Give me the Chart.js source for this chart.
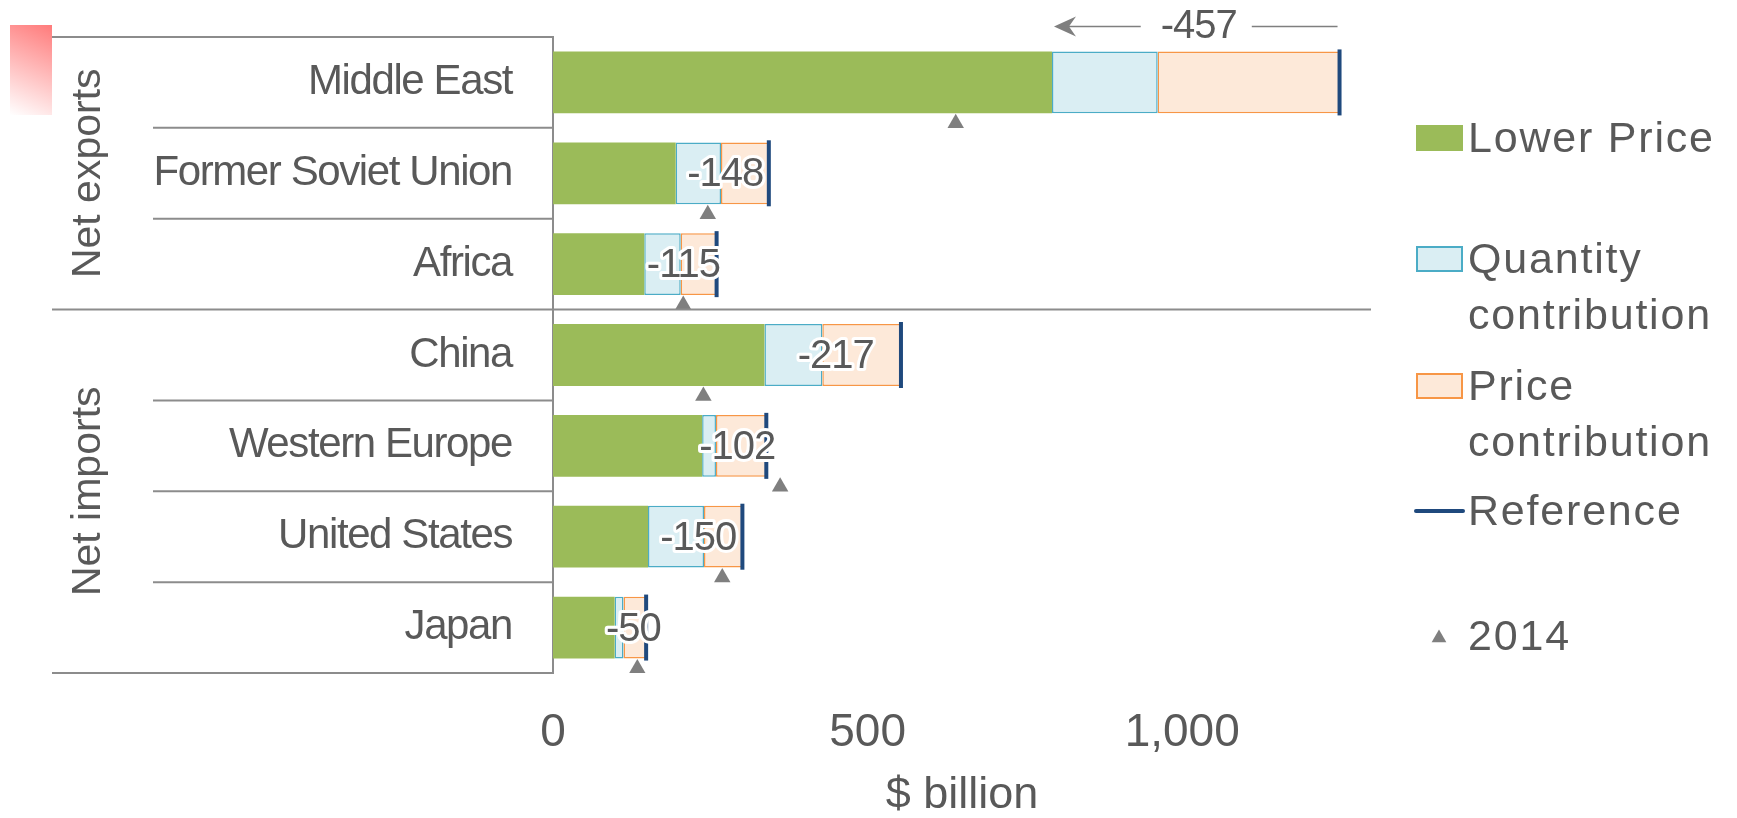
<!DOCTYPE html>
<html>
<head>
<meta charset="utf-8">
<title>Change in net oil trade revenue</title>
<script src="https://cdn.jsdelivr.net/npm/chart.js@4.4.1/dist/chart.umd.min.js"></script>
<style>
  html, body { margin: 0; padding: 0; background: #fff; }
  #wrap { position: relative; width: 1737px; height: 818px; }
</style>
</head>
<body>
<div id="wrap"><canvas id="chart"></canvas></div>
<script>
// values in $ billion
const regions = ['Middle East', 'Former Soviet Union', 'Africa', 'China', 'Western Europe', 'United States', 'Japan'];
const groupNames = ['Net exports', 'Net imports'];
const groupSizes = [3, 4];
const lowerPrice = [793, 195, 145, 336, 237, 151, 98];
const quantityContribution = [168, 72, 58, 92, 22, 89, 14];
const priceContribution = [289, 76, 57, 125, 80, 61, 36];
const reference = [1250, 343, 260, 553, 339, 301, 148];
const year2014 = [640, 246, 207, 239, 361, 269, 134];
const changeLabels = ['-457', '-148', '-115', '-217', '-102', '-150', '-50'];
const labelAbove = ['Middle East'];
const xTicks = [0, 500, 1000];
const xMax = 1300;

const TEXT = '#595959';
const LINE = '#8c8c8c';
const FONT = '"Liberation Sans", Arial, sans-serif';
// 2014 markers sit just under each bar (offset in category units)
const MARK_SHIFT = 0.45;

function setFont(ctx, size, spacing) {
  ctx.font = size + 'px ' + FONT;
  ctx.letterSpacing = (spacing || 0) + 'px';
}

// the left hand table: row lines, region names, group names
const tablePlugin = {
  id: 'table',
  beforeDraw(chart) {
    const ctx = chart.ctx;
    ctx.save();
    const g = ctx.createLinearGradient(52, 25, 10, 115);
    g.addColorStop(0, '#ff7b7b');
    g.addColorStop(1, '#ffffff');
    ctx.fillStyle = g;
    ctx.fillRect(10, 25, 42, 90);
    ctx.restore();
  },
  afterDraw(chart) {
    const ctx = chart.ctx;
    const y = chart.scales.y;
    const area = chart.chartArea;
    const outer = 52, inner = 153;
    const edge = i => (y.getPixelForValue(i) + y.getPixelForValue(i + 1)) / 2;
    const hline = (x1, x2, yy) => {
      ctx.beginPath();
      ctx.moveTo(x1, yy);
      ctx.lineTo(x2, yy);
      ctx.stroke();
    };

    ctx.save();
    ctx.strokeStyle = LINE;
    ctx.lineWidth = 2;
    hline(outer, area.left, area.top);
    hline(outer, area.left, area.bottom);

    ctx.fillStyle = TEXT;
    let start = 0;
    groupSizes.forEach((n, g) => {
      for (let i = start; i < start + n - 1; i++) hline(inner, area.left, edge(i));
      if (g < groupSizes.length - 1) hline(outer, area.right, edge(start + n - 1));

      const yc = (y.getPixelForValue(start) + y.getPixelForValue(start + n - 1)) / 2;
      ctx.save();
      ctx.translate(100, yc);
      ctx.rotate(-Math.PI / 2);
      setFont(ctx, 41, 0);
      ctx.textAlign = 'center';
      ctx.textBaseline = 'alphabetic';
      ctx.fillText(groupNames[g], 0, 0);
      ctx.restore();
      start += n;
    });

    setFont(ctx, 42, -1.4);
    ctx.textAlign = 'right';
    ctx.textBaseline = 'middle';
    regions.forEach((r, i) => ctx.fillText(r, area.left - 41, y.getPixelForValue(i)));
    ctx.restore();
  }
};

// change labels, drawn between the lower price end and the reference
const changePlugin = {
  id: 'change',
  afterDatasetsDraw(chart) {
    const ctx = chart.ctx;
    const x = chart.scales.x;
    const bars = chart.getDatasetMeta(0).data;
    ctx.save();
    setFont(ctx, 40, -1);
    ctx.textAlign = 'center';
    ctx.textBaseline = 'middle';
    ctx.lineJoin = 'round';
    regions.forEach((r, i) => {
      const x0 = x.getPixelForValue(lowerPrice[i]);
      const x1 = x.getPixelForValue(reference[i]);
      const cx = (x0 + x1) / 2 + 3;
      const bar = bars[i];
      if (labelAbove.includes(r)) {
        const ty = bar.y - bar.height / 2 - 25;
        const tw = ctx.measureText(changeLabels[i]).width;
        ctx.fillStyle = TEXT;
        ctx.fillText(changeLabels[i], cx, ty);
        ctx.strokeStyle = '#7f7f7f';
        ctx.fillStyle = '#7f7f7f';
        ctx.lineWidth = 1.5;
        ctx.beginPath();
        ctx.moveTo(x0 + 6, ty);
        ctx.lineTo(cx - tw / 2 - 20, ty);
        ctx.moveTo(cx + tw / 2 + 15, ty);
        ctx.lineTo(x1 - 2, ty);
        ctx.stroke();
        ctx.beginPath();
        ctx.moveTo(x0 + 2, ty);
        ctx.lineTo(x0 + 24, ty - 10);
        ctx.lineTo(x0 + 17, ty);
        ctx.lineTo(x0 + 24, ty + 10);
        ctx.closePath();
        ctx.fill();
      } else {
        const ty = bar.y + 2;
        ctx.strokeStyle = '#ffffff';
        ctx.lineWidth = 6;
        ctx.strokeText(changeLabels[i], cx, ty);
        ctx.fillStyle = TEXT;
        ctx.fillText(changeLabels[i], cx, ty);
      }
    });
    ctx.restore();
  }
};

// legend on the right, words wrapped like the original
const legendPlugin = {
  id: 'sideLegend',
  afterDraw(chart) {
    const ctx = chart.ctx;
    const boxX = 1416, boxW = 47, textX = 1468, maxW = 262, step = 56;
    const baselines = [152, 273, 400, 525, 650];
    ctx.save();
    setFont(ctx, 43, 1.8);
    ctx.textAlign = 'left';
    ctx.textBaseline = 'alphabetic';
    chart.data.datasets.forEach((ds, k) => {
      const base = baselines[k];
      if (ds.type === 'line' && ds.pointStyle === 'line') {
        ctx.strokeStyle = ds.pointBorderColor;
        ctx.lineWidth = 4;
        ctx.lineCap = 'round';
        ctx.beginPath();
        ctx.moveTo(boxX, base - 14);
        ctx.lineTo(boxX + boxW, base - 14);
        ctx.stroke();
      } else if (ds.type === 'line') {
        const cx = boxX + 23, cy = base - 12, r = 8.5;
        ctx.fillStyle = ds.pointBackgroundColor;
        ctx.beginPath();
        ctx.moveTo(cx, cy - r);
        ctx.lineTo(cx + r * 0.866, cy + r / 2);
        ctx.lineTo(cx - r * 0.866, cy + r / 2);
        ctx.closePath();
        ctx.fill();
      } else {
        ctx.fillStyle = ds.backgroundColor;
        ctx.fillRect(boxX, base - 27, boxW, 26);
        if (ds.borderWidth) {
          ctx.strokeStyle = ds.borderColor;
          ctx.lineWidth = 2;
          ctx.strokeRect(boxX + 1, base - 26, boxW - 2, 24);
        }
      }
      // word wrap
      const lines = [];
      let cur = '';
      ds.label.split(' ').forEach(w => {
        const t = cur ? cur + ' ' + w : w;
        if (cur && ctx.measureText(t).width > maxW) { lines.push(cur); cur = w; } else cur = t;
      });
      lines.push(cur);
      ctx.fillStyle = TEXT;
      lines.forEach((l, j) => ctx.fillText(l, textX, base + j * step));
    });
    ctx.restore();
  }
};

const ctx = document.getElementById('chart').getContext('2d');

new Chart(ctx, {
  type: 'bar',
  data: {
    labels: regions,
    datasets: [{
      label: 'Lower Price',
      data: lowerPrice,
      backgroundColor: '#9bbb59',
      borderWidth: 0,
      order: 2
    }, {
      label: 'Quantity contribution',
      data: quantityContribution,
      backgroundColor: '#daeef3',
      borderColor: '#4bacc6',
      borderWidth: 1.5,
      borderSkipped: false,
      order: 2
    }, {
      label: 'Price contribution',
      data: priceContribution,
      backgroundColor: '#fde9d9',
      borderColor: '#f79646',
      borderWidth: 1.5,
      borderSkipped: false,
      order: 2
    }, {
      type: 'line',
      label: 'Reference',
      data: reference.map((v, i) => ({ x: v, y: i })),
      indexAxis: 'y',
      xAxisID: 'xR',
      yAxisID: 'yT',
      showLine: false,
      pointStyle: 'line',
      rotation: 90,
      pointRadius: 33,
      pointBorderWidth: 4,
      pointBorderColor: '#1f497d',
      order: 0
    }, {
      type: 'line',
      label: '2014',
      data: year2014.map((v, i) => ({ x: v, y: i + MARK_SHIFT })),
      indexAxis: 'y',
      xAxisID: 'xR',
      yAxisID: 'yT',
      showLine: false,
      pointStyle: 'triangle',
      pointRadius: 9.5,
      pointBorderWidth: 0,
      pointBackgroundColor: '#7f7f7f',
      pointBorderColor: '#7f7f7f',
      order: 1
    }]
  },
  options: {
    indexAxis: 'y',
    responsive: true,
    maintainAspectRatio: false,
    animation: false,
    events: [],
    layout: { padding: { left: 0, right: 366, top: 33, bottom: 0 } },
    datasets: { bar: { grouped: false, categoryPercentage: 1, barPercentage: 0.68, inflateAmount: 0 } },
    plugins: {
      legend: { display: false },
      tooltip: { enabled: false }
    },
    scales: {
      x: {
        type: 'linear',
        stacked: true,
        bounds: 'data',
        offset: false,
        min: 0,
        max: xMax,
        grid: { display: false, drawTicks: false },
        border: { display: false },
        afterBuildTicks: s => { s.ticks = xTicks.map(v => ({ value: v })); },
        afterFit: s => { s.height = 145; },
        ticks: {
          padding: 33,
          color: TEXT,
          font: { family: FONT, size: 46, lineHeight: 1.2 }
        },
        title: {
          display: true,
          text: '$ billion',
          color: TEXT,
          padding: { top: 0, bottom: 0 },
          font: { family: FONT, size: 45, lineHeight: 1 }
        }
      },
      xR: {
        type: 'linear',
        display: false,
        bounds: 'data',
        offset: false,
        min: 0,
        max: xMax
      },
      y: {
        type: 'category',
        stacked: true,
        grid: { display: false, drawTicks: false },
        border: { display: true, color: LINE, width: 2 },
        ticks: { display: false },
        afterFit: s => { s.width = 553; }
      },
      yT: {
        type: 'linear',
        display: false,
        bounds: 'data',
        offset: false,
        reverse: true,
        min: -0.5,
        max: regions.length - 0.5
      }
    }
  },
  plugins: [tablePlugin, changePlugin, legendPlugin]
});
</script>
</body>
</html>
